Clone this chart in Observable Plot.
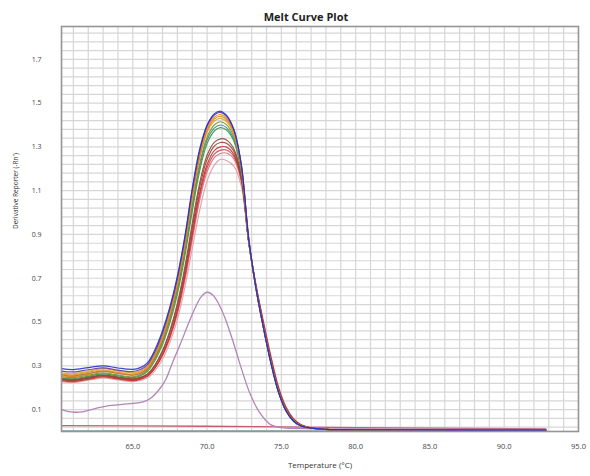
<!DOCTYPE html>
<html><head><meta charset="utf-8">
<script src="https://cdn.jsdelivr.net/npm/d3@7"></script>
<script src="https://cdn.jsdelivr.net/npm/@observablehq/plot@0.6"></script>
<style>body{margin:0;background:#fff} svg{display:block}</style>
</head><body><div id="chart"></div>
<script>
const title = "Melt Curve Plot";
const xLabel = "Temperature (°C)";
const yLabel = "Derivative Reporter (-Rn')";
const xTicks = [65, 70, 75, 80, 85, 90, 95];
const yTicks = [0.1, 0.3, 0.5, 0.7, 0.9, 1.1, 1.3, 1.5, 1.7];

// temperatures for the amplified wells
const temps = [60.2,61,62,63,64,65,65.5, 66,66.5,67,67.5,68,68.5,69,69.5,70,70.5, 70.9, 71.3,71.8,72.3,72.8,73.3,73.8,74.3,74.8,75.3,75.8,76.3,77, 78,80,85,92.8];

const well01 = [.287,.283,.292,.300,.290,.284,.292, .315,.375,.46,.57,.71,.89,1.11,1.29,1.40,1.452, 1.463, 1.445,1.38,1.22,.88,.65,.47,.31,.18,.095,.048,.026,.015, .010,.008,.007,.006];
const well02 = [.276,.272,.282,.291,.280,.274,.283, .307,.365,.45,.56,.70,.88,1.10,1.28,1.395,1.447, 1.458, 1.441,1.378,1.22,.885,.655,.475,.315,.183,.097,.049,.026,.015, .010,.008,.007,.006];
const well03 = [.262,.258,.270,.281,.270,.262,.272, .296,.352,.435,.545,.685,.865,1.085,1.268,1.385,1.437, 1.448, 1.432,1.372,1.216,.882,.652,.472,.313,.182,.096,.049,.026,.015, .010,.008,.007,.006];
const well04 = [.254,.251,.262,.275,.266,.257,.266, .289,.344,.425,.533,.672,.852,1.07,1.255,1.375,1.428, 1.440, 1.425,1.366,1.212,.88,.652,.473,.314,.183,.097,.05,.027,.015, .010,.008,.007,.006];
const well05 = [.268,.264,.275,.287,.276,.268,.277, .300,.355,.433,.54,.678,.855,1.068,1.25,1.366,1.418, 1.430, 1.416,1.358,1.206,.876,.650,.472,.314,.183,.097,.05,.027,.015, .010,.008,.007,.006];
const well06 = [.250,.246,.257,.268,.258,.250,.259, .282,.334,.41,.515,.65,.825,1.035,1.222,1.345,1.401, 1.415, 1.402,1.347,1.200,.874,.650,.473,.315,.184,.098,.05,.027,.015, .010,.008,.007,.006];
const well07 = [.258,.254,.265,.276,.266,.258,.266, .288,.339,.413,.515,.648,.82,1.027,1.21,1.332,1.387, 1.400, 1.388,1.336,1.193,.871,.649,.473,.316,.185,.099,.051,.027,.015, .010,.008,.007,.006];
const well08 = [.245,.241,.252,.263,.254,.246,.254, .275,.325,.397,.497,.628,.80,1.005,1.19,1.315,1.374, 1.388, 1.377,1.327,1.188,.870,.650,.475,.318,.186,.100,.051,.027,.015, .010,.008,.007,.006];
const well09 = [.238,.234,.244,.255,.246,.238,.245, .262,.305,.37,.462,.585,.75,.95,1.135,1.262,1.322, 1.337, 1.332,1.292,1.170,.868,.655,.482,.325,.192,.104,.054,.029,.016, .010,.008,.007,.006];
const well10 = [.242,.238,.248,.258,.249,.241,.247, .263,.303,.365,.453,.572,.733,.93,1.115,1.243,1.305, 1.320, 1.317,1.280,1.163,.867,.657,.485,.328,.194,.105,.055,.029,.016, .010,.008,.007,.006];
const well11 = [.232,.228,.238,.249,.240,.232,.238, .253,.292,.352,.437,.553,.712,.905,1.09,1.22,1.284, 1.300, 1.299,1.266,1.155,.868,.660,.490,.333,.198,.108,.057,.030,.016, .010,.008,.007,.006];
const well12 = [.236,.232,.242,.252,.243,.235,.241, .255,.292,.35,.433,.547,.703,.892,1.075,1.204,1.268, 1.285, 1.286,1.256,1.150,.868,.662,.493,.336,.200,.110,.058,.031,.017, .010,.008,.007,.006];
const well13 = [.240,.236,.246,.256,.247,.239,.244, .257,.292,.347,.428,.538,.69,.875,1.056,1.186,1.252, 1.270, 1.272,1.245,1.143,.868,.665,.497,.34,.203,.112,.059,.031,.017, .010,.008,.007,.006];
const well14 = [.228,.224,.234,.244,.236,.228,.233, .245,.278,.33,.407,.512,.657,.835,1.01,1.145,1.218, 1.243, 1.238,1.212,1.122,.862,.667,.502,.345,.208,.115,.061,.033,.018, .011,.008,.007,.006];

// low, early-melting well
const lowTemps = [60.2,60.6,61.1,61.6,62.2,62.8,63.4,64.0,64.6,65.2,65.7,66.2,66.7,67.2,67.7,68.2,68.7,69.2,69.6,70.0,70.4,70.8,71.2,71.8,72.35,72.9,73.6,74.3,75.0,76,80,92.8];
const lowWell = [.100,.092,.088,.090,.100,.110,.118,.122,.126,.130,.135,.152,.185,.235,.32,.40,.485,.565,.615,.636,.622,.58,.52,.40,.278,.171,.08,.03,.018,.014,.012,.010];

// flat (no amplification) wells
const flatTemps = [60.2, 65, 70, 75, 80, 85, 92.8];
const flatA = [.027, .026, .024, .021, .018, .015, .012];
const flatB = [.004, .004, .004, .004, .004, .004, .004];

// drawing order and styling
const wells = [well14, well13, well12, well11, well10, well09, well08, well07, well06, well05, well04, well03, well02, well01];
const wellColors = ["#e39aa4", "#d9707c", "#d2464f", "#c8302e", "#9e3b3b", "#8c4b32", "#3b9441", "#2f8f86", "#7f8f2a", "#d9a521", "#e07b20", "#f28a1e", "#5b3a9e", "#2431c8"];

const toRows = (xs, ys) => xs.map((t, i) => ({t, v: ys[i]}));

const font = "'Open Sans', 'DejaVu Sans', sans-serif";
const marks = [
  Plot.gridX(d3.range(61, 95, 1), {stroke: "#d6d6d6", strokeOpacity: 1, strokeWidth: 1.2}),
  Plot.gridY(d3.range(0.02, 1.85, 0.04), {stroke: "#d6d6d6", strokeOpacity: 1, strokeWidth: 1.2}),
  Plot.axisX(xTicks, {tickSize: 0, tickPadding: 12, tickFormat: d3.format(".1f"), fontSize: 7.5, fill: "#444", label: null, fontFamily: font}),
  Plot.axisY(yTicks, {tickSize: 0, tickPadding: 20, tickFormat: d3.format(".1f"), fontSize: 7, fill: "#444", label: null, fontFamily: font}),
  Plot.line(toRows(flatTemps, flatB), {x: "t", y: "v", stroke: "#9fb7bd", strokeWidth: 1.2}),
  Plot.line(toRows(flatTemps, flatA), {x: "t", y: "v", stroke: "#c4606e", strokeWidth: 1.3}),
  Plot.line(toRows(lowTemps, lowWell), {x: "t", y: "v", stroke: "#b583b8", strokeWidth: 1.3, curve: "catmull-rom"}),
  ...wells.map((w, i) => Plot.line(toRows(temps, w), {x: "t", y: "v", stroke: wellColors[i], strokeWidth: 1.2, strokeOpacity: 0.9, curve: "catmull-rom"})),
  Plot.frame({stroke: "#959595", strokeWidth: 1.6}),
  Plot.text([title], {frameAnchor: "top", dy: -13, dx: -14, fontSize: 11, fontWeight: "bold", fill: "#222", fontFamily: font}),
  Plot.text([xLabel], {frameAnchor: "bottom", dy: 36, fontSize: 8, fill: "#333", fontFamily: font}),
  Plot.text([yLabel], {frameAnchor: "left", dx: -46, rotate: -90, fontSize: 6.5, fill: "#333", fontFamily: font})
];

const chart = Plot.plot({
  width: 590,
  height: 476,
  marginLeft: 61,
  marginRight: 12,
  marginTop: 26,
  marginBottom: 45,
  style: {background: "#fff", fontFamily: font},
  x: {domain: [60.2, 95]},
  y: {domain: [0, 1.85]},
  marks
});
document.getElementById("chart").appendChild(chart);
</script>
</body></html>
